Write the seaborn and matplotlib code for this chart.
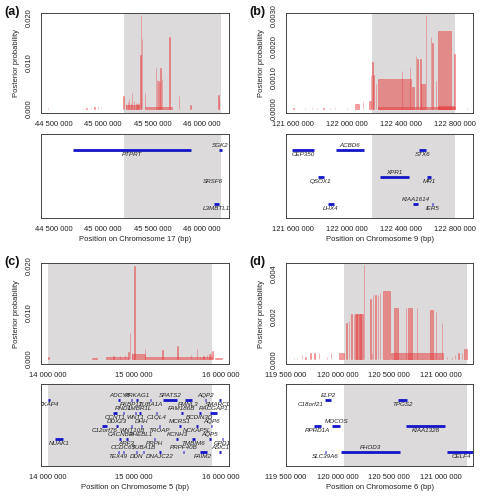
import matplotlib
matplotlib.use("Agg")
import matplotlib.pyplot as plt
import seaborn as sns

# ---------------- panel (a): chromosome 17 ----------------
a_start = [44_440_000, 44_795_000, 44_829_000, 44_879_000, 44_912_000, 44_946_000, 44_979_000,
           45_207_000, 45_231_000, 45_231_000, 45_248_000, 45_265_000, 45_281_000, 45_291_000,
           45_315_000, 45_332_000, 45_349_000, 45_365_000, 45_378_000, 45_385_000, 45_392_000,
           45_426_000, 45_430_000, 45_533_000, 45_547_000, 45_560_000, 45_573_000, 45_583_000,
           45_600_000, 45_674_000, 45_768_000, 45_885_000, 46_170_000, 46_177_000]
a_end = [44_443_000, 44_798_000, 44_832_000, 44_882_000, 44_915_000, 44_949_000, 44_982_000,
         45_209_000, 45_365_000, 45_234_000, 45_251_000, 45_268_000, 45_284_000, 45_294_000,
         45_318_000, 45_335_000, 45_352_000, 45_368_000, 45_381_000, 45_388_000, 45_395_000,
         45_429_000, 45_700_000, 45_536_000, 45_550_000, 45_563_000, 45_576_000, 45_586_000,
         45_603_000, 45_677_000, 45_771_000, 45_888_000, 46_173_000, 46_180_000]
a_prob = [0.0001, 0.0002, 0.00015, 0.0002, 0.0003, 0.0003, 0.0002,
          0.0028, 0.0009, 0.0010, 0.0015, 0.0022, 0.0012, 0.0035,
          0.0018, 0.0013, 0.0010, 0.0012, 0.0118, 0.0205, 0.0152,
          0.0035, 0.0003, 0.0089, 0.0062, 0.0060, 0.0058, 0.0090,
          0.0066, 0.0157, 0.0028, 0.0008, 0.0030, 0.0020]
a_genes = ["PTPRT", "SGK2", "SRSF6", "L3MBTL1"]
a_gene_start = [44_694_000, 46_176_000, 46_112_000, 46_130_000]
a_gene_end = [45_888_000, 46_210_000, 46_118_000, 46_175_000]
a_gene_row = [1, 1, 2, 3]
a_gene_side = [-1, 1, -1, -1]   # +1 label above the bar, -1 below
a_region = (45_214_000, 46_198_000)

# ---------------- panel (b): chromosome 9 ----------------
b_start = [121_599_000, 121_686_000, 121_736_000, 121_773_000, 121_822_000, 121_872_000,
           121_909_000, 121_996_000, 122_057_000, 122_114_000, 122_163_000, 122_176_000,
           122_186_000, 122_193_000, 122_211_000, 122_230_000, 122_230_000, 122_404_000,
           122_465_000, 122_482_000, 122_510_000, 122_520_000, 122_542_000, 122_547_000,
           122_582_000, 122_619_000, 122_631_000, 122_658_000, 122_671_000, 122_671_000,
           122_794_000, 122_886_000]
b_end = [121_601_000, 121_688_000, 121_738_000, 121_775_000, 121_824_000, 121_874_000,
         121_911_000, 121_998_000, 122_087_000, 122_116_000, 122_174_000, 122_178_000,
         122_188_000, 122_195_000, 122_213_000, 122_470_000, 122_800_000, 122_406_000,
         122_467_000, 122_497_000, 122_512_000, 122_522_000, 122_544_000, 122_577_000,
         122_584_000, 122_621_000, 122_633_000, 122_660_000, 122_767_000, 122_795_000,
         122_796_000, 122_888_000]
b_prob = [0.00003, 0.00002, 0.00003, 0.00002, 0.00004, 0.00002,
          0.00002, 0.00002, 0.00017, 0.00022, 0.00025, 0.0011,
          0.0015, 0.0011, 0.0008, 0.00095, 0.00005, 0.0012,
          0.0013, 0.0007, 0.0017, 0.0016, 0.0016, 0.0008,
          0.0030, 0.0023, 0.0021, 0.0009, 0.0025, 0.0001,
          0.00175, 0.00002]
b_genes = ["CEP350", "ACBD6", "STX6", "QSOX1", "XPR1", "MR1", "LHX4", "KIAA1614", "IER5"]
b_gene_start = [121_590_000, 121_916_000, 122_533_000, 121_780_000, 122_239_000,
                122_595_000, 121_854_000, 122_487_000, 122_632_000]
b_gene_end = [121_750_000, 122_121_000, 122_583_000, 121_825_000, 122_461_000,
              122_620_000, 121_899_000, 122_528_000, 122_636_000]
b_gene_row = [1, 1, 1, 2, 2, 2, 3, 3, 3]
b_gene_side = [-1, 1, -1, -1, 1, -1, -1, 1, -1]
b_region = (122_181_000, 122_800_000)

# ---------------- panel (c): chromosome 5 ----------------
c_start = [14_012_000, 14_385_000, 14_512_000, 14_677_000, 14_761_000, 14_839_000,
           14_896_000, 14_934_000, 14_954_000, 14_973_000, 14_973_000, 15_004_000,
           15_127_000, 15_127_000, 15_327_000, 15_500_000, 15_654_000, 15_723_000,
           15_761_000, 15_800_000, 15_838_000, 15_869_000, 15_888_000, 15_903_000,
           15_934_000]
c_end = [14_014_000, 14_387_000, 14_570_000, 14_934_000, 14_764_000, 14_842_000,
         14_899_000, 14_937_000, 14_957_000, 14_976_000, 15_127_000, 15_007_000,
         15_130_000, 15_896_000, 15_330_000, 15_503_000, 15_657_000, 15_726_000,
         15_764_000, 15_803_000, 15_841_000, 15_872_000, 15_891_000, 15_906_000,
         16_011_000]
c_prob = [0.0003, 0.00005, 0.0001, 0.0005, 0.0006, 0.0007,
          0.0009, 0.0015, 0.0055, 0.0013, 0.0010, 0.0201,
          0.0022, 0.0003, 0.0019, 0.0028, 0.0008, 0.0022,
          0.0005, 0.0007, 0.0009, 0.0011, 0.0013, 0.0017,
          0.0001]
c_genes = ["CKAP4", "ADCY6", "PRKAG1", "SPATS2", "AQP2", "FKBP11", "TUBA1A", "FMNL3", "SMARCD1",
           "RND1", "LMBR1L", "FAM186B", "RACGAP1", "CCNT1", "WNT1", "C1QL4", "BCDIN3D",
           "DDX23", "DHH", "MCRS1", "AQP6", "C12orf76", "WNT10B", "TROAP", "NCKAP5L",
           "CACNB3", "RHEBL1", "KCNH3", "AQP5", "NUAK1", "ARF3", "PRPH", "TMBIM6", "GPD1",
           "CCDC65", "TUBA1B", "PRPF40B", "ASIC1", "TEX49", "DDN", "DNAJC22", "FAIM2"]
c_gene_start = [14_010_000, 14_818_000, 15_028_000, 15_338_000, 15_820_000, 14_965_000,
                15_185_000, 15_588_000, 15_980_000,
                14_868_000, 15_058_000, 15_540_000, 15_877_000, 14_761_000, 15_006_000,
                15_255_000, 15_752_000,
                14_797_000, 15_082_000, 15_522_000, 15_890_000, 14_627_000, 14_966_000,
                15_285_000, 15_710_000,
                14_830_000, 15_076_000, 15_490_000, 15_870_000, 14_089_000, 14_905_000,
                15_225_000, 15_670_000, 16_016_000,
                14_868_000, 15_100_000, 15_560_000, 15_980_000, 14_810_000, 15_025_000,
                15_294_000, 15_761_000]
c_gene_end = [14_030_000, 14_842_000, 15_048_000, 15_492_000, 15_834_000, 14_981_000,
              15_199_000, 15_665_000, 16_004_000,
              14_886_000, 15_080_000, 15_560_000, 15_954_000, 14_807_000, 15_018_000,
              15_267_000, 15_770_000,
              14_817_000, 15_094_000, 15_540_000, 15_902_000, 14_685_000, 14_980_000,
              15_299_000, 15_736_000,
              14_848_000, 15_086_000, 15_510_000, 15_884_000, 14_178_000, 14_927_000,
              15_237_000, 15_698_000, 16_030_000,
              14_886_000, 15_114_000, 15_578_000, 16_004_000, 14_828_000, 15_037_000,
              15_306_000, 15_838_000]
c_gene_row = [1] * 9 + [2] * 8 + [3] * 8 + [4] * 9 + [5] * 8
c_gene_side = ([-1, 1, 1, 1, 1, -1, -1, -1, -1]
               + [1, 1, 1, 1, -1, -1, -1, -1]
               + [1, 1, 1, 1, -1, -1, -1, -1]
               + [1, 1, 1, 1, -1, -1, -1, -1, -1]
               + [1, 1, 1, 1, -1, -1, -1, -1])
c_region = (14_012_000, 15_903_000)

# ---------------- panel (d): chromosome 6 ----------------
d_start = [119_574_000, 119_607_000, 119_656_000, 119_688_000, 119_736_000, 119_775_000,
           119_816_000, 119_897_000, 119_936_000, 120_010_000, 120_084_000, 120_106_000,
           120_132_000, 120_155_000, 120_171_000, 120_181_000, 120_203_000, 120_220_000,
           120_252_000, 120_316_000, 120_332_000, 120_342_000, 120_365_000, 120_387_000,
           120_406_000, 120_439_000, 120_519_000, 120_551_000, 120_661_000, 120_687_000,
           120_768_000, 120_897_000, 120_955_000, 121_010_000, 121_058_000, 121_106_000,
           121_138_000, 121_170_000, 121_203_000, 121_228_000]
d_end = [119_576_000, 119_609_000, 119_659_000, 119_690_000, 119_739_000, 119_778_000,
         119_819_000, 119_899_000, 119_939_000, 120_065_000, 120_087_000, 120_109_000,
         120_135_000, 120_158_000, 120_245_000, 120_184_000, 120_206_000, 120_223_000,
         120_255_000, 120_319_000, 120_335_000, 120_345_000, 120_368_000, 120_390_000,
         120_409_000, 120_503_000, 121_022_000, 120_590_000, 120_664_000, 120_719_000,
         120_771_000, 120_929_000, 120_958_000, 121_013_000, 121_060_000, 121_108_000,
         121_140_000, 121_172_000, 121_205_000, 121_251_000]
d_prob = [0.00005, 0.00005, 0.0002, 0.0001, 0.0003, 0.0003,
          0.0003, 0.0001, 0.0003, 0.00028, 0.0017, 0.0018,
          0.0021, 0.0021, 0.0021, 0.0021, 0.0021, 0.0021,
          0.0044, 0.0028, 0.0003, 0.0030, 0.0030, 0.0030,
          0.0031, 0.0032, 0.0003, 0.0024, 0.0024, 0.0024,
          0.0024, 0.0023, 0.0022, 0.0017, 0.0001, 0.0001,
          0.0002, 0.0003, 0.0003, 0.0005]
d_genes = ["C18orf21", "ELP2", "TPGS2", "RPRD1A", "MOCOS", "KIAA1328", "SLC39A6", "FHOD3", "CELF4"]
d_gene_start = [119_741_000, 119_881_000, 120_590_000, 119_768_000, 119_946_000,
                120_664_000, 119_879_000, 120_036_000, 121_058_000]
d_gene_end = [119_745_000, 119_936_000, 120_671_000, 119_839_000, 120_026_000,
              121_042_000, 119_883_000, 120_600_000, 121_340_000]
d_gene_row = [1, 1, 1, 2, 2, 2, 3, 3, 3]
d_gene_side = [-1, 1, -1, -1, 1, -1, -1, 1, -1]
d_region = (120_065_000, 121_254_000)

chromosomes = ["17", "9", "5", "6"]

sns.set_theme(style="white")
plt.rcParams["font.family"] = ["Liberation Sans", "DejaVu Sans"]

RED = "#e8393c"
GREY = "#dcdada"
BLUE = "#1414c8"
FRAME = "#444444"

fig = plt.figure(figsize=(4.8, 5.0), dpi=100)


def px_axes(x0, y0, x1, y1):
    # pixel box (top-left origin) -> figure fraction
    return fig.add_axes([x0 / 480, 1 - y1 / 500, (x1 - x0) / 480, (y1 - y0) / 500])


def fmt_bp(v):
    return f"{int(round(v)):,}".replace(",", " ")


def style_frame(ax):
    for s in ax.spines.values():
        s.set_color(FRAME)
        s.set_linewidth(0.7)
    ax.tick_params(direction="out", length=3, width=0.6, color=FRAME,
                   labelsize=5.5, pad=3, labelcolor="#222222")


def set_xticks(ax, ticks, labelled):
    ax.set_xticks(ticks)
    ax.set_xticklabels([fmt_bp(t) if t in labelled else "" for t in ticks])


def draw_panel(box, letter, chrom, xlim, region, starts, ends, probs, ylim, yticks, ylab_every, yfmt,
               xticks, xlab, genes, gstart, gend, grow, gside):
    x0, y0, x1, y1, yb0, yb1 = box
    top = px_axes(x0, y0, x1, y1)
    bot = px_axes(x0, yb0, x1, yb1)

    # posterior probabilities
    top.axvspan(region[0], region[1], color=GREY, lw=0, zorder=0)
    widths = [e - s for s, e in zip(starts, ends)]
    top.bar(starts, probs, width=widths, align="edge", color=RED, alpha=0.5,
            edgecolor=RED, linewidth=0.5, zorder=2)
    top.set_xlim(*xlim)
    top.set_ylim(*ylim)
    top.set_yticks(yticks)
    top.set_yticklabels([yfmt.format(t) if i % ylab_every == 0 else "" for i, t in enumerate(yticks)])
    for lab in top.get_yticklabels():
        lab.set_rotation(90)
        lab.set_va("center")
    set_xticks(top, xticks, xlab)
    top.set_ylabel("Posterior probability", fontsize=5.5, color="#222222")
    top.yaxis.set_label_coords(-21 / (x1 - x0), 0.5)
    style_frame(top)

    # gene track
    nrows = max(grow)
    bot.axvspan(region[0], region[1], color=GREY, lw=0, zorder=0)
    for name, s, e, r, side in zip(genes, gstart, gend, grow, gside):
        y = 0.81 - (r - 1) * 0.64 / (nrows - 1)
        bot.plot([s, e], [y, y], color=BLUE, lw=2.0, solid_capstyle="butt", zorder=2)
        bot.text((s + e) / 2, y + side * 0.055, name, fontsize=4.5, style="italic",
                 color="#222222", ha="center", va="center", clip_on=True, zorder=3)
    bot.set_xlim(*xlim)
    bot.set_ylim(0, 1)
    bot.set_yticks([])
    set_xticks(bot, xticks, xlab)
    bot.set_xlabel(f"Position on Chromosome {chrom} (bp)", fontsize=5.5, labelpad=2, color="#222222")
    style_frame(bot)

    fig.text((x0 - 29) / 480, 1 - (y0 - 1) / 500, letter, fontsize=9, fontweight="bold",
             ha="center", va="center", color="#111111")


draw_panel((41, 13, 229, 113, 134, 218), "(a)", chromosomes[0], (44_369_000, 46_279_000), a_region,
           a_start, a_end, a_prob, (-0.0009, 0.0209), [0, 0.005, 0.010, 0.015, 0.020], 2, "{:.3f}",
           [44_500_000, 45_000_000, 45_500_000, 46_000_000],
           [44_500_000, 45_000_000, 45_500_000, 46_000_000],
           a_genes, a_gene_start, a_gene_end, a_gene_row, a_gene_side)

draw_panel((286, 13, 473, 113, 134, 218), "(b)", chromosomes[1], (121_545_000, 122_933_000), b_region,
           b_start, b_end, b_prob, (-0.00013, 0.00307),
           [0, 0.0005, 0.0010, 0.0015, 0.0020, 0.0025, 0.0030], 2, "{:.4f}",
           [121_600_000, 121_800_000, 122_000_000, 122_200_000, 122_400_000, 122_600_000, 122_800_000],
           [121_600_000, 122_000_000, 122_400_000, 122_800_000],
           b_genes, b_gene_start, b_gene_end, b_gene_row, b_gene_side)

draw_panel((41, 263, 229, 364, 384, 466), "(c)", chromosomes[2], (13_927_000, 16_096_000), c_region,
           c_start, c_end, c_prob, (-0.0011, 0.02065), [0, 0.005, 0.010, 0.015, 0.020], 2, "{:.3f}",
           [14_000_000, 14_500_000, 15_000_000, 15_500_000, 16_000_000],
           [14_000_000, 15_000_000, 16_000_000],
           c_genes, c_gene_start, c_gene_end, c_gene_row, c_gene_side)

draw_panel((286, 263, 473, 364, 384, 466), "(d)", chromosomes[3], (119_504_000, 121_312_000), d_region,
           d_start, d_end, d_prob, (-0.00022, 0.00448), [0, 0.001, 0.002, 0.003, 0.004], 2, "{:.3f}",
           [119_500_000, 120_000_000, 120_500_000, 121_000_000],
           [119_500_000, 120_000_000, 120_500_000, 121_000_000],
           d_genes, d_gene_start, d_gene_end, d_gene_row, d_gene_side)

fig.savefig("out.png", dpi=100, facecolor="white")
